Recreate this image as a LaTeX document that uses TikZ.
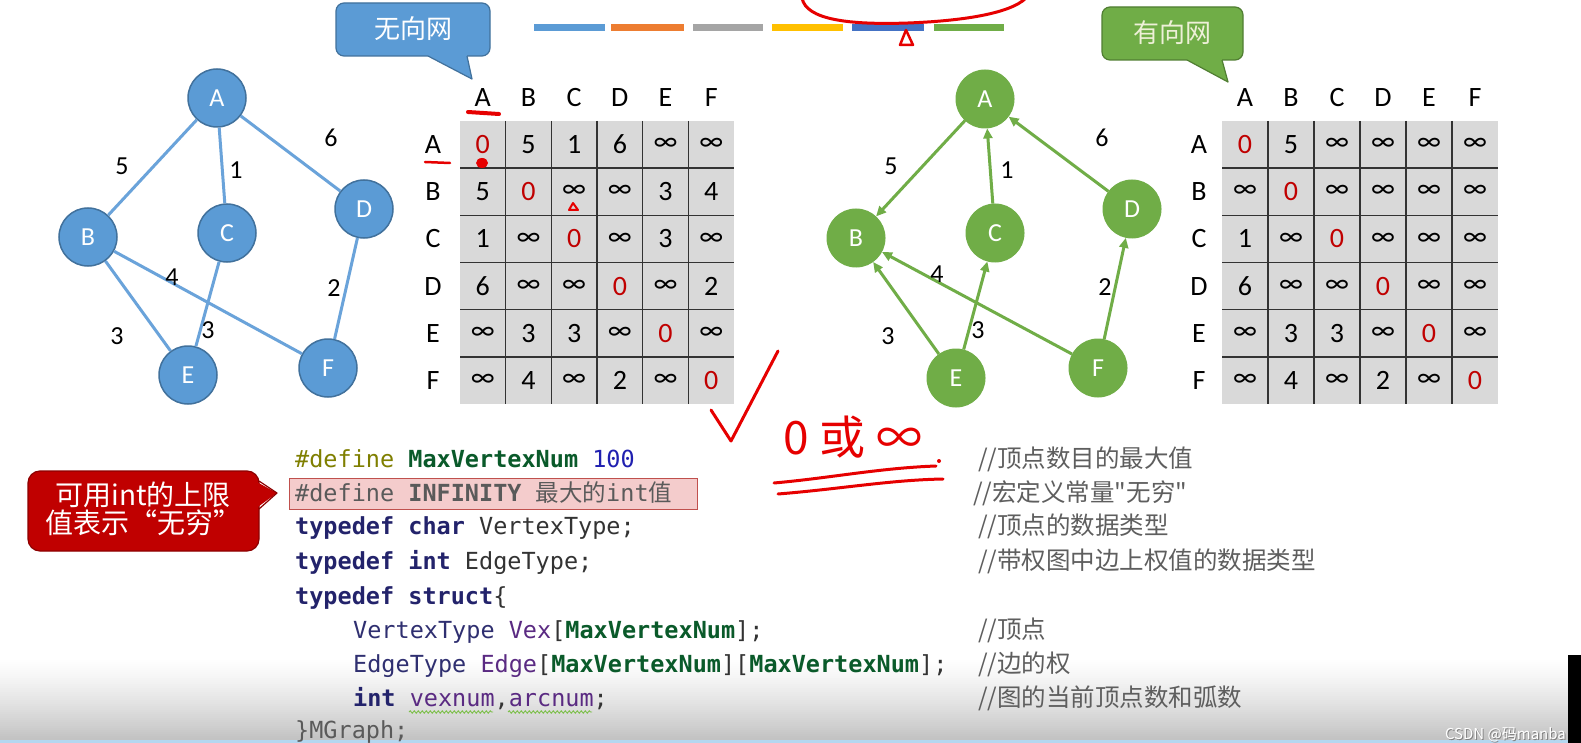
\documentclass[tikz,border=0pt]{standalone}
\usepackage{fontspec}
\setmainfont{Carlito}
\newfontfamily\cjk{Noto Sans CJK SC}
\newfontfamily\codefont{DejaVu Sans Mono}
\usetikzlibrary{arrows.meta,decorations.pathmorphing}
\newcommand\myfs[1]{\fontsize{#1}{#1}\selectfont}
\definecolor{nblue}{HTML}{5B9BD5}
\definecolor{nbluedk}{HTML}{41719C}
\definecolor{eblue}{HTML}{6AA3DA}
\definecolor{ngreen}{HTML}{70AD47}
\definecolor{ngreendk}{HTML}{507E32}
\definecolor{zred}{HTML}{C00000}
\definecolor{hred}{HTML}{E60000}
\definecolor{cellgray}{HTML}{D9D9D9}
\definecolor{gridc}{HTML}{333333}
\definecolor{cdef}{HTML}{7F7F00}
\definecolor{cconst}{HTML}{0A5A2A}
\definecolor{cnum}{HTML}{2020B0}
\definecolor{ckw}{HTML}{23236B}
\definecolor{ctype}{HTML}{2F2F70}
\definecolor{cfield}{HTML}{5A2A82}
\definecolor{cplain}{HTML}{333333}
\definecolor{hlgray}{HTML}{5A5A5A}
\definecolor{cmtgray}{HTML}{5E5E5E}
\definecolor{cred}{HTML}{C00000}
\definecolor{creddk}{HTML}{8C0000}
\definecolor{hlfill}{HTML}{F4CCCC}
\definecolor{hlline}{HTML}{C0504D}
\definecolor{barblue}{HTML}{5B9BD5}
\definecolor{barorange}{HTML}{ED7D31}
\definecolor{bargray}{HTML}{A5A5A5}
\definecolor{baryellow}{HTML}{FFC000}
\definecolor{bardblue}{HTML}{4472C4}
\definecolor{bargreen}{HTML}{70AD47}
\definecolor{botgray}{HTML}{C0C0C0}
\definecolor{botblue}{HTML}{B4D7F0}
\definecolor{lightyel}{HTML}{EEF0D8}
\definecolor{wavy}{HTML}{7CBF4A}
\newcommand\cellv[1]{\ifnum#1=0 \textcolor{zred}{0}\else\ifnum#1=9 ∞\else #1\fi\fi}
\begin{document}
\begin{tikzpicture}[x=1pt,y=-1pt,
  bnode/.style={circle,minimum size=58pt,inner sep=0pt,fill=nblue,draw=nbluedk,line width=1.5pt,text=white,font=\myfs{26}},
  gnode/.style={circle,minimum size=58pt,inner sep=0pt,fill=ngreen,draw=ngreen,line width=1pt,text=white,font=\myfs{26}},
  bedge/.style={draw=eblue,line width=3pt},
  gedge/.style={draw=ngreen,line width=3pt,-{Triangle[length=10pt,width=9pt]}},
  wlab/.style={font=\myfs{26},text=black,inner sep=0pt},
  cell/.style={font=\myfs{28},inner sep=0pt},
  hdr/.style={font=\myfs{28},inner sep=0pt},
  gridline/.style={draw=gridc,line width=1.6pt},
  code/.style={font=\codefont\myfs{23.5},anchor=base west,inner sep=0pt},
  cmt/.style={font=\cjk\myfs{24.5},text=cmtgray,anchor=base west,inner sep=0pt},
  hand/.style={draw=hred,line width=3pt,line cap=round,line join=round},
]
\useasboundingbox (0,0) rectangle (1581,743);
\fill[white] (0,0) rectangle (1581,743);
% bottom gradient (white to gray, top to bottom)
\foreach \k in {0,...,42} {
  \pgfmathtruncatemacro\pct{100*(\k/42)^1.3}
  \fill[botgray!\pct!white] (0,{656+2*\k}) rectangle (1568,{658.5+2*\k});
}
\fill[botblue] (0,740) rectangle (1568,743);
\fill[black] (1568,655) rectangle (1581,743);

% top colour bars
\fill[barblue]   (534,24) rectangle (605,31);
\fill[barorange] (611,24) rectangle (684,31);
\fill[bargray]   (693,24) rectangle (763,31);
\fill[baryellow] (772,24) rectangle (843,31);
\fill[bardblue]  (852,24) rectangle (924,31);
\fill[bargreen]  (934,24) rectangle (1004,31);

% callout: undirected
\draw[fill=nblue,draw=nbluedk,line width=1.2pt,rounded corners=8pt] (336,3) rectangle (490,56);
\fill[nblue] (428,53) -- (428,56) -- (472,79) -- (467,56) -- (467,53) -- cycle;
\draw[nbluedk,line width=1.2pt,line join=round] (428,56) -- (472,79) -- (467,56);
\node[font=\cjk\myfs{26},text=white] (t1) at (413,29) {无向网};

% callout: directed
\draw[fill=ngreen,draw=ngreendk,line width=1.2pt,rounded corners=8pt] (1102,7) rectangle (1243,60);
\fill[ngreen] (1187,57) -- (1187,60) -- (1228,82) -- (1222,60) -- (1222,57) -- cycle;
\draw[ngreendk,line width=1.2pt,line join=round] (1187,60) -- (1228,82) -- (1222,60);
\node[font=\cjk\myfs{26},text=lightyel] (t2) at (1172,33) {有向网};

% undirected graph
\node[bnode] (uA) at (217,98) {A};
\node[bnode] (uB) at (88,237) {B};
\node[bnode] (uC) at (227,233) {C};
\node[bnode] (uD) at (364,209) {D};
\node[bnode] (uE) at (188,375) {E};
\node[bnode] (uF) at (328,368) {F};
\draw[bedge] (uA) -- (uB);
\draw[bedge] (uA) -- (uC);
\draw[bedge] (uA) -- (uD);
\draw[bedge] (uB) -- (uE);
\draw[bedge] (uB) -- (uF);
\draw[bedge] (uC) -- (uE);
\draw[bedge] (uD) -- (uF);
\node[wlab] (ul5) at (122,166) {5};
\node[wlab] (ul1) at (236,170) {1};
\node[wlab] (ul6) at (331,138) {6};
\node[wlab] (ul4) at (172,277) {4};
\node[wlab] (ul2) at (334,288) {2};
\node[wlab] (ul3a) at (117,336) {3};
\node[wlab] (ul3b) at (208,330) {3};

% directed graph
\node[gnode] (dA) at (985,99) {A};
\node[gnode] (dB) at (856,238) {B};
\node[gnode] (dC) at (995,233) {C};
\node[gnode] (dD) at (1132,209) {D};
\node[gnode] (dE) at (956,378) {E};
\node[gnode] (dF) at (1098,368) {F};
\draw[gedge] (dA) -- (dB);
\draw[gedge] (dC) -- (dA);
\draw[gedge] (dD) -- (dA);
\draw[gedge] (dE) -- (dB);
\draw[gedge] (dE) -- (dC);
\draw[gedge] (dF) -- (dB);
\draw[gedge] (dF) -- (dD);
\node[wlab] (dl5) at (891,166) {5};
\node[wlab] (dl1) at (1007,170) {1};
\node[wlab] (dl6) at (1102,138) {6};
\node[wlab] (dl4) at (937,274) {4};
\node[wlab] (dl2) at (1105,287) {2};
\node[wlab] (dl3a) at (888,336) {3};
\node[wlab] (dl3b) at (978,330) {3};

% left matrix
\fill[cellgray] (460,121) rectangle (734,404);
\foreach \k in {1,...,5} {
  \draw[gridline] ({460+45.67*\k},121) -- ({460+45.67*\k},404);
  \draw[gridline] (460,{121+47.17*\k}) -- (734,{121+47.17*\k});
}
\foreach \h [count=\j] in {A,B,C,D,E,F} {
  \node[hdr] (Lc\j) at ({460+45.67*(\j-0.5)},98) {\h};
  \node[hdr] (Lr\j) at (433,{121+47.17*(\j-0.5)}) {\h};
}
\def\Lrows{{0,5,1,6,9,9},{5,0,9,9,3,4},{1,9,0,9,3,9},{6,9,9,0,9,2},{9,3,3,9,0,9},{9,4,9,2,9,0}}
\foreach \row [count=\i] in \Lrows {
  \foreach \v [count=\j] in \row {
    \node[cell] (L\i\j) at ({460+45.67*(\j-0.5)},{121+47.17*(\i-0.5)}) {\cellv{\v}};
  }
}

% right matrix
\fill[cellgray] (1222,121) rectangle (1498,404);
\foreach \k in {1,...,5} {
  \draw[gridline] ({1222+46*\k},121) -- ({1222+46*\k},404);
  \draw[gridline] (1222,{121+47.17*\k}) -- (1498,{121+47.17*\k});
}
\foreach \h [count=\j] in {A,B,C,D,E,F} {
  \node[hdr] (Rc\j) at ({1222+46*(\j-0.5)},98) {\h};
  \node[hdr] (Rr\j) at (1199,{121+47.17*(\j-0.5)}) {\h};
}
\def\Rrows{{0,5,9,9,9,9},{9,0,9,9,9,9},{1,9,0,9,9,9},{6,9,9,0,9,9},{9,3,3,9,0,9},{9,4,9,2,9,0}}
\foreach \row [count=\i] in \Rrows {
  \foreach \v [count=\j] in \row {
    \node[cell] (R\i\j) at ({1222+46*(\j-0.5)},{121+47.17*(\i-0.5)}) {\cellv{\v}};
  }
}

% red callout
\draw[fill=cred,draw=creddk,line width=1.2pt,rounded corners=12pt] (28,471) rectangle (259,551);
\fill[cred] (255,481) -- (277,493) -- (255,509) -- cycle;
\draw[creddk,line width=1.2pt,line join=round] (259,481) -- (277,493) -- (259,509);
\node[font=\cjk\myfs{28},text=white,align=center,inner sep=0pt] (note) at (143,509) {\fontsize{28}{33}\selectfont 可用int的上限\\值表示“无穷”};

% code highlight
\draw[fill=hlfill,draw=hlline,line width=1pt] (289,478) rectangle (697,509);

% code
\node[code] (c1) at (295,467) {\textcolor{cdef}{\#define} \textcolor{cconst}{\bfseries MaxVertexNum} \textcolor{cnum}{100}};
\node[code,text=hlgray] (c2) at (295,501) {\#define {\bfseries INFINITY} {\cjk 最大的}int{\cjk 值}};
\node[code] (c3) at (295,534) {\textcolor{ckw}{\bfseries typedef char} \textcolor{cplain}{VertexType;}};
\node[code] (c4) at (295,569) {\textcolor{ckw}{\bfseries typedef int} \textcolor{cplain}{EdgeType;}};
\node[code] (c5) at (295,604) {\textcolor{ckw}{\bfseries typedef struct}\textcolor{cplain}{\{}};
\node[code] (c6) at (353,638) {\textcolor{ctype}{VertexType} \textcolor{cfield}{Vex}\textcolor{cplain}{[}\textcolor{cconst}{\bfseries MaxVertexNum}\textcolor{cplain}{];}};
\node[code] (c7) at (353,672) {\textcolor{ctype}{EdgeType} \textcolor{cfield}{Edge}\textcolor{cplain}{[}\textcolor{cconst}{\bfseries MaxVertexNum}\textcolor{cplain}{][}\textcolor{cconst}{\bfseries MaxVertexNum}\textcolor{cplain}{];}};
\node[code] (c8) at (353,706) {\textcolor{ckw}{\bfseries int} \textcolor{cfield}{vexnum}\textcolor{cplain}{,}\textcolor{cfield}{arcnum}\textcolor{cplain}{;}};
\node[code,text=hlgray] (c9) at (295,738) {\}MGraph;};
\draw[wavy,line width=0.9pt,decorate,decoration={snake,amplitude=1.2pt,segment length=4pt}] (409,712) -- (493,712);
\draw[wavy,line width=0.9pt,decorate,decoration={snake,amplitude=1.2pt,segment length=4pt}] (508,712) -- (592,712);

% comments
\node[cmt] (k1) at (978,467) {//顶点数目的最大值};
\node[cmt] (k2) at (973,501) {//宏定义常量"无穷"};
\node[cmt] (k3) at (978,534) {//顶点的数据类型};
\node[cmt] (k4) at (978,569) {//带权图中边上权值的数据类型};
\node[cmt] (k6) at (978,638) {//顶点};
\node[cmt] (k7) at (978,672) {//边的权};
\node[cmt] (k8) at (978,706) {//图的当前顶点数和弧数};

% handwriting
\draw[hand] (802,-2) .. controls (806,20) and (850,25) .. (908,23) .. controls (960,21) and (1010,14) .. (1026,-2);
\draw[hand,line width=2.5pt] (906,30) -- (900,45) -- (913,45) -- cycle;
\draw[hand,line width=4pt] (468,112) -- (499,114);
\draw[hand,line width=2.5pt] (425,162) -- (450,163);
\fill[hred] (482,163) ellipse (6pt and 5pt);
\draw[hand,line width=2pt] (573,203) -- (569,210) -- (578,210) -- cycle;
\draw[hand] (711,410) -- (731,441) -- (778,351);
\node[font=\cjk\myfs{46},text=hred] (hw) at (853,437) {0 或 ∞};
\draw[hand] (774,483) .. controls (830,478) and (880,468) .. (936,466);
\draw[hand] (778,494) .. controls (840,489) and (890,480) .. (943,479);
\fill[hred] (939,461) circle (2pt);

% watermark
\node[anchor=base east,font=\cjk\myfs{15},text=gray,inner sep=0pt] (wm0) at (1567,740) {CSDN @码manba};
\node[anchor=base east,font=\cjk\myfs{15},text=white,inner sep=0pt] (wm) at (1566,739) {CSDN @码manba};
\end{tikzpicture}
\end{document}
